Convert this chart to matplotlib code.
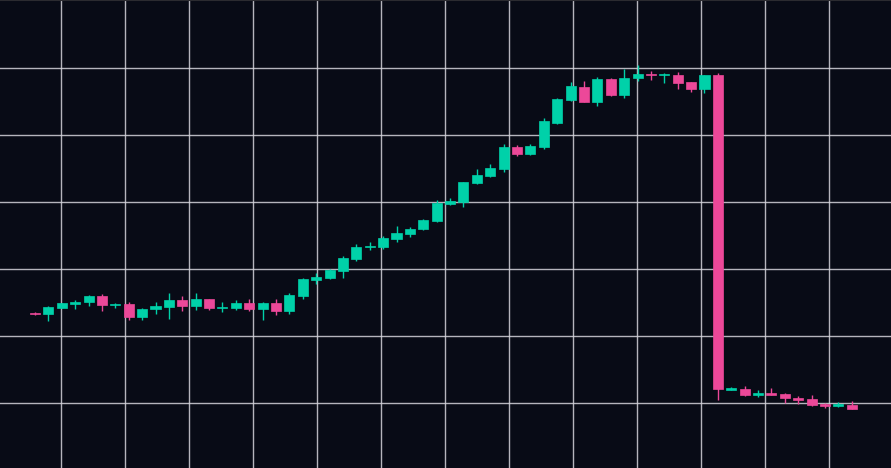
"""
Candlestick chart: slow climb, plateau, then a single crash candle.
"""
import matplotlib
matplotlib.use("Agg")
import matplotlib.pyplot as plt
import numpy as np

BG = "#080b16"
UP = "#00d1a9"
DOWN = "#ec4899"
GRID = "#d4d4dc"

# OHLC per candle (index 0..61)
opens = [
    23.43, 23.28, 24.25, 24.85, 25.07, 25.97, 24.63, 24.78, 22.84, 24.10,
    24.40, 25.37, 24.52, 25.52, 24.13, 24.22, 24.93, 24.03, 24.93, 23.69,
    26.01, 28.43, 28.66, 29.70, 31.45, 33.24, 33.33, 34.48, 35.22, 35.93,
    37.12, 39.70, 39.96, 42.79, 43.88, 44.88, 48.21, 47.12, 48.21, 51.84,
    55.22, 57.21, 54.97, 58.36, 56.01, 58.51, 59.06, 59.00, 58.96, 57.87,
    56.91, 58.91, 11.99, 12.09, 11.15, 11.54, 11.39, 10.79, 10.60, 9.85,
    9.51, 9.75,
]
closes = [
    23.28, 24.33, 24.93, 25.15, 25.97, 24.63, 24.78, 22.84, 24.10, 24.48,
    25.37, 24.48, 25.52, 24.13, 24.37, 24.93, 24.03, 24.93, 23.73, 26.12,
    28.55, 28.81, 29.81, 31.60, 33.33, 33.48, 34.58, 35.37, 35.97, 37.27,
    39.81, 40.15, 42.94, 44.03, 45.07, 48.25, 47.12, 48.36, 52.04, 55.37,
    57.27, 54.97, 58.36, 56.01, 58.55, 59.10, 58.91, 59.15, 57.81, 56.91,
    58.91, 12.09, 12.19, 11.19, 11.54, 11.24, 10.70, 10.49, 9.75, 9.51,
    9.81, 9.15,
]
highs = [
    23.58, 24.48, 25.00, 25.30, 26.16, 26.27, 24.93, 25.12, 24.22, 25.03,
    26.37, 25.97, 26.37, 25.55, 25.07, 25.37, 25.48, 25.07, 25.57, 26.42,
    28.61, 29.40, 29.96, 31.94, 33.73, 34.03, 34.93, 36.42, 36.27, 37.51,
    40.30, 40.60, 42.99, 44.93, 45.67, 48.66, 48.55, 48.66, 52.54, 55.57,
    57.87, 58.01, 58.61, 58.55, 59.90, 60.45, 59.55, 59.18, 59.36, 57.87,
    59.00, 59.30, 12.39, 12.54, 11.90, 12.28, 11.45, 11.04, 11.19, 9.93,
    10.15, 10.30,
]
lows = [
    23.13, 22.28, 24.18, 24.10, 24.52, 23.73, 24.22, 22.39, 22.43, 23.24,
    22.58, 23.78, 23.93, 23.93, 23.58, 23.93, 23.69, 22.39, 23.18, 23.33,
    25.48, 27.76, 28.51, 28.70, 31.19, 32.84, 33.03, 34.03, 34.78, 35.78,
    36.97, 39.55, 39.30, 42.69, 43.73, 44.52, 46.87, 47.09, 47.96, 51.69,
    55.15, 54.93, 54.33, 55.87, 55.48, 58.01, 58.21, 57.81, 56.91, 56.46,
    56.27, 10.40, 11.87, 11.12, 10.94, 11.19, 10.04, 9.90, 9.60, 9.25,
    9.36, 9.06,
]


def plot_candles(out_path="out.png"):
    o = np.array(opens)
    c = np.array(closes)
    h = np.array(highs)
    l = np.array(lows)
    x = np.arange(len(o))
    up = c >= o
    colours = np.where(up, UP, DOWN)

    fig = plt.figure(figsize=(8.91, 4.68), dpi=100, facecolor=BG)
    ax = fig.add_axes([0, 0, 1, 1], facecolor=BG)

    ax.vlines(x, l, h, colors=colours, linewidth=1, zorder=2)
    bottoms = np.minimum(o, c)
    heights = np.maximum(np.abs(c - o), 0.15)
    ax.bar(x, heights, bottom=bottoms, width=0.75, color=colours,
           edgecolor=colours, linewidth=0.5, zorder=3)

    ax.set_xlim(-2.614, 63.93)
    ax.set_ylim(0.30, 70.15)

    ax.set_xticks(np.arange(1.942, 64, 4.78))
    ax.set_yticks(np.arange(10, 61, 10))
    ax.grid(True, color=GRID, linewidth=1, alpha=0.85)
    ax.set_axisbelow(True)
    ax.tick_params(length=0, labelbottom=False, labelleft=False)

    for side in ["left", "right", "bottom"]:
        ax.spines[side].set_visible(False)
    ax.spines["top"].set_color("#2b2b30")
    ax.spines["top"].set_linewidth(1.5)

    fig.savefig(out_path, dpi=100, facecolor=BG)


if __name__ == "__main__":
    plot_candles()
